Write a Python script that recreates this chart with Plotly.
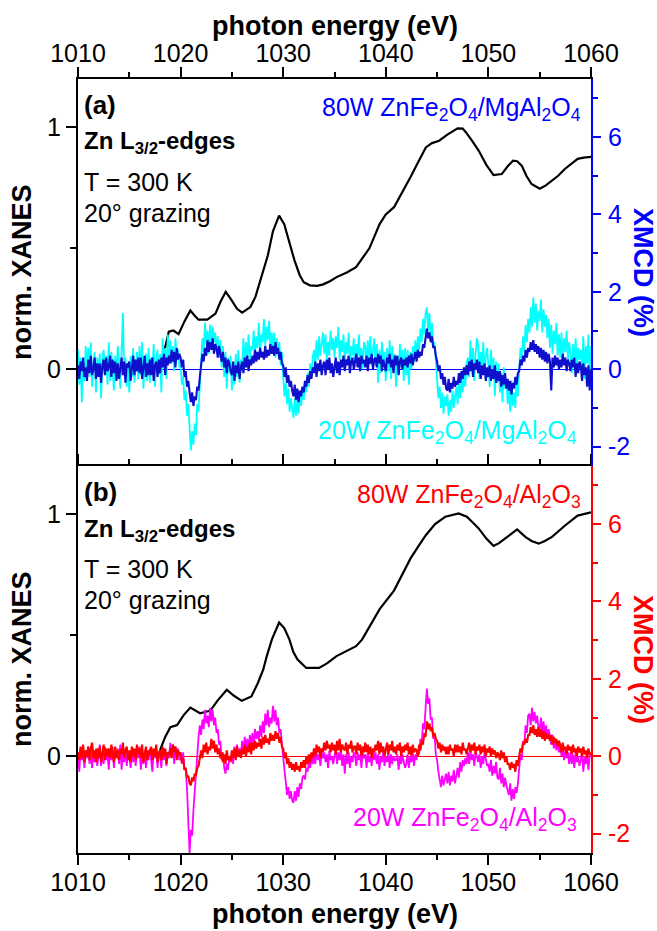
import numpy as np
import plotly.graph_objects as go

# ---------------- data ----------------
# XANES, panel (a) ZnFe2O4/MgAl2O4  (energy eV, normalised)
xa_E = [1018.0, 1018.5, 1018.85, 1019.3, 1019.8, 1020.4, 1020.95, 1021.4, 1021.75, 1022.6,
        1023.4, 1023.9, 1024.4, 1024.9, 1025.5, 1026.0, 1026.8, 1027.3, 1027.9, 1028.5,
        1029.0, 1029.6, 1030.1, 1030.6, 1031.1, 1031.6, 1032.0, 1032.6, 1033.3, 1033.9,
        1034.6, 1035.2, 1036.2, 1037.1, 1038.4, 1039.4, 1040.0, 1040.8, 1041.6, 1042.4,
        1043.2, 1043.9, 1044.5, 1045.2, 1046.0, 1047.0, 1047.5, 1047.8, 1048.4, 1049.05,
        1049.8, 1050.5, 1051.3, 1051.9, 1052.4, 1052.8, 1053.25, 1053.7, 1054.2, 1055.0,
        1055.6, 1056.2, 1056.8, 1057.45, 1058.1, 1058.7, 1059.3, 1060.0]
xa_V = [0.00, 0.09, 0.155, 0.16, 0.145, 0.20, 0.243, 0.22, 0.205, 0.205,
        0.23, 0.28, 0.32, 0.29, 0.25, 0.234, 0.257, 0.30, 0.381, 0.47,
        0.57, 0.635, 0.60, 0.52, 0.45, 0.39, 0.36, 0.347, 0.345, 0.351,
        0.365, 0.381, 0.40, 0.422, 0.50, 0.60, 0.64, 0.67, 0.73, 0.794,
        0.86, 0.917, 0.935, 0.945, 0.97, 0.996, 0.995, 0.98, 0.945, 0.904,
        0.845, 0.803, 0.807, 0.84, 0.862, 0.86, 0.842, 0.80, 0.766, 0.746,
        0.76, 0.78, 0.80, 0.828, 0.85, 0.87, 0.875, 0.878]

# XANES, panel (b) ZnFe2O4/Al2O3
xb_E = [1018.0, 1018.5, 1019.0, 1019.66, 1020.3, 1020.95, 1021.4, 1021.9, 1022.9, 1023.6,
        1024.5, 1025.2, 1025.96, 1026.9, 1027.5, 1028.05, 1028.4, 1028.9, 1029.6, 1030.1,
        1030.6, 1031.0, 1031.4, 1032.25, 1033.5, 1034.3, 1035.2, 1036.2, 1037.1, 1037.7,
        1038.5, 1039.4, 1040.8, 1041.6, 1042.4, 1043.2, 1043.9, 1044.8, 1045.8, 1047.1,
        1047.9, 1048.5, 1049.05, 1049.8, 1050.5, 1051.0, 1051.6, 1052.8, 1053.6, 1054.2,
        1054.9, 1055.5, 1056.2, 1057.5, 1058.7, 1059.8, 1060.0]
xb_V = [0.025, 0.08, 0.12, 0.129, 0.17, 0.201, 0.19, 0.178, 0.189, 0.23,
        0.275, 0.25, 0.229, 0.247, 0.30, 0.358, 0.414, 0.483, 0.553, 0.53,
        0.483, 0.43, 0.40, 0.365, 0.365, 0.385, 0.414, 0.435, 0.455, 0.483,
        0.54, 0.608, 0.685, 0.75, 0.817, 0.87, 0.914, 0.96, 0.99, 1.004,
        0.99, 0.965, 0.942, 0.90, 0.87, 0.88, 0.90, 0.9375, 0.907, 0.89,
        0.879, 0.89, 0.907, 0.955, 0.995, 1.007, 1.008]

# XMCD (%), sampled every 0.125 eV from 1010 to 1060 (8 values per eV, one row per eV)
mcd_a80 = [
    .10, -.25, .20, -.05, .30, -.20, .05, -.30,      # 1010
    .25, -.10, .35, -.15, .00, .30, -.25, .15,       # 1011
    -.20, .15, -.35, .10, .25, -.15, .30, -.05,      # 1012
    .05, .35, -.20, .25, -.10, .20, -.30, .15,       # 1013
    -.25, .10, .30, -.15, .20, -.35, .15, .05,       # 1014
    .20, -.30, .10, .35, -.15, .25, -.05, .30,       # 1015
    -.10, .30, -.25, .10, .35, -.20, .15, -.15,      # 1016
    .25, -.15, .30, -.30, .10, .20, -.20, .25,       # 1017
    -.10, .30, .05, .40, -.15, .30, .10, .35,        # 1018
    .15, .50, .20, .45, .05, .55, .25, .40,          # 1019
    .30, .05, .25, -.20, -.05, -.45, -.30, -.60,     # 1020
    -.85, -.60, -.95, -.70, -.80, -.45, -.55, -.20,  # 1021
    .05, .40, .20, .55, .35, .75, .45, .70,          # 1022
    .50, .80, .40, .65, .55, .30, .60, .35,          # 1023
    .20, .45, .05, .30, -.10, .25, .15, -.05,        # 1024
    -.15, .20, -.30, .10, -.10, .20, -.25, .05,      # 1025
    .20, -.10, .30, .05, .35, -.05, .25, .10,        # 1026
    .35, .15, .50, .20, .45, .25, .55, .30,          # 1027
    .45, .25, .60, .30, .50, .35, .65, .40,          # 1028
    .60, .35, .70, .40, .55, .25, .45, .15,          # 1029
    .10, -.20, .05, -.35, -.15, -.45, -.30, -.55,    # 1030
    -.70, -.40, -.80, -.50, -.85, -.55, -.70, -.45,  # 1031
    -.60, -.30, -.45, -.15, -.35, -.05, -.25, .05,   # 1032
    -.10, .20, -.20, .15, -.05, .25, -.15, .10,      # 1033
    .20, -.15, .25, .00, .30, -.10, .15, -.20,       # 1034
    .05, .30, -.10, .20, -.15, .25, .05, .35,        # 1035
    -.05, .25, .10, .35, -.10, .20, .30, .00,        # 1036
    .20, .40, .05, .30, -.05, .35, .15, .25,         # 1037
    .05, .35, -.05, .30, .15, .40, .00, .25,         # 1038
    .30, .05, .40, .15, .35, -.05, .25, .10,         # 1039
    -.05, .30, .15, .40, .05, .25, -.10, .35,        # 1040
    .10, .35, -.15, .20, .30, .00, .25, .10,         # 1041
    .30, .05, .35, .15, .40, .10, .25, .45,          # 1042
    .20, .50, .30, .45, .35, .65, .55, .80,          # 1043
    1.05, .80, .95, .70, .85, .55, .60, .35,         # 1044
    .20, -.05, .10, -.25, -.10, -.40, -.20, -.50,    # 1045
    -.55, -.25, -.60, -.35, -.50, -.20, -.45, -.30,  # 1046
    -.40, -.10, -.35, -.05, -.25, .05, -.15, .10,    # 1047
    -.15, .20, -.05, .25, -.20, .15, .00, .25,       # 1048
    -.10, .20, -.25, .10, -.15, .15, -.30, .05,      # 1049
    -.20, .10, -.30, .00, -.25, .10, -.35, -.05,     # 1050
    -.30, -.05, -.45, -.15, -.40, -.10, -.50, -.25,  # 1051
    -.55, -.30, -.65, -.35, -.50, -.20, -.40, -.10,  # 1052
    -.05, .25, .10, .35, .20, .50, .30, .55,         # 1053
    .45, .70, .50, .75, .45, .65, .40, .60,          # 1054
    .30, .55, .25, .50, .20, .45, .15, .40,          # 1055
    .20, -.55, .30, .05, .35, .10, .30, .00,         # 1056
    .25, .05, .40, .10, .30, -.05, .25, .15,         # 1057
    -.05, .25, .05, .30, -.20, .15, -.10, .20,       # 1058
    .10, -.30, .15, -.15, .05, -.45, .10, -.55,      # 1059
    .00]                                             # 1060

mcd_a20 = [
    .50, -.40, .30, -.85, .20, -.30, .60, -.10,      # 1010
    .55, -.20, .70, -.45, .10, .45, -.60, .30,       # 1011
    -.20, .40, -.75, .25, .50, -.15, .35, -.40,      # 1012
    .70, -.30, .45, .00, -.55, .35, -.20, .60,       # 1013
    .20, -.50, .40, 1.45, -.10, .30, -.45, .15,      # 1014
    -.60, .35, -.20, .55, -.35, .10, .45, -.25,      # 1015
    .60, -.15, .70, -.50, .20, .40, -.30, .55,       # 1016
    -.35, .30, -.10, .65, -.45, .25, .50, -.15,      # 1017
    .40, -.60, .80, .10, .55, -.25, .90, .20,        # 1018
    .75, .15, .60, -.05, .80, .25, .50, .05,         # 1019
    .10, -.40, -.20, -.80, -.55, -1.20, -.90, -1.50, # 1020
    -2.10, -1.60, -1.95, -1.40, -1.70, -.90, -1.10, -.40,  # 1021
    .10, .80, .45, 1.20, .65, 1.00, .40, 1.15,       # 1022
    .55, 1.10, .70, .95, .45, .85, .30, .75,         # 1023
    .05, .60, -.20, .45, -.50, .30, -.10, .35,       # 1024
    -.55, .20, -.40, .40, -.20, .50, -.35, .25,      # 1025
    .15, .80, .05, .70, .30, .90, .20, .60,          # 1026
    .50, 1.00, .35, .85, .55, 1.20, .45, .90,        # 1027
    .70, 1.30, .60, 1.10, .75, 1.25, .55, .95,       # 1028
    .50, .95, .30, .80, .40, .70, .10, .45,          # 1029
    -.20, -.70, -.35, -.90, -.50, -1.10, -.75, -1.05,  # 1030
    -1.25, -.75, -1.20, -.80, -1.15, -.60, -.95, -.55,  # 1031
    -.80, -.30, -.60, -.10, -.45, .15, -.20, .30,    # 1032
    .50, .10, .75, .25, .85, .35, .60, .95,          # 1033
    .40, .90, .20, .70, .35, 1.00, .50, .80,         # 1034
    .30, .85, .55, 1.10, .25, .75, .45, .90,         # 1035
    .20, .70, .40, .95, .15, .60, .35, .80,          # 1036
    .05, .65, .30, .90, .20, .55, .00, .70,          # 1037
    .60, .15, .75, .30, .85, .10, .50, .80,          # 1038
    .10, .65, -.35, .50, -.10, .70, .20, .45,        # 1039
    -.30, .55, -.05, .75, -.25, .60, .10, .40,       # 1040
    -.45, .35, -.10, .65, .05, .50, -.30, .55,       # 1041
    -.15, .50, -.40, .45, .00, .60, .20, .75,        # 1042
    .25, .85, .50, 1.05, .70, 1.30, .90, 1.45,       # 1043
    1.60, 1.00, 1.45, .80, 1.20, .55, .70, .10,      # 1044
    -.20, -.75, -.45, -1.00, -.60, -1.15, -.70, -.95,  # 1045
    -.65, -1.20, -.80, -1.10, -.55, -1.00, -.70, -.45,  # 1046
    -.90, -.35, -.75, -.20, -.60, -.10, -.45, .15,   # 1047
    .30, -.20, .75, .10, .55, -.30, .40, .80,        # 1048
    .65, -.25, .45, .05, .70, -.15, .35, .55,        # 1049
    .10, -.45, .50, -.20, .30, -.70, .20, -.35,      # 1050
    .15, -.60, -.10, -.85, .05, -.50, -.25, -.90,    # 1051
    -.45, -1.10, -.30, -.95, -.60, -1.00, -.20, -.70,  # 1052
    .00, .55, .30, .85, .45, 1.15, .70, 1.30,        # 1053
    .95, 1.60, 1.10, 1.85, 1.20, 1.70, 1.00, 1.50,   # 1054
    1.25, 1.80, .95, 1.55, 1.10, 1.40, .80, 1.30,    # 1055
    .55, 1.15, .40, 1.00, .65, 1.20, .35, .90,       # 1056
    .30, .95, .20, .80, .45, 1.00, .25, .70,         # 1057
    .40, -.10, .65, .20, .80, .05, .55, .25,         # 1058
    .50, .00, .85, -.25, .60, .15, .90, -.30,        # 1059
    .60]                                             # 1060

mcd_b80 = [
    .10, -.10, .25, -.05, .30, -.15, .15, .00,       # 1010
    .25, -.10, .20, .35, -.05, .15, -.15, .20,       # 1011
    -.05, .25, -.15, .10, .30, -.10, .20, .00,       # 1012
    .20, -.05, .30, .05, -.15, .25, -.05, .15,       # 1013
    -.10, .20, .05, .35, -.05, .15, .25, -.10,       # 1014
    .15, -.15, .25, .00, .20, -.10, .30, .05,        # 1015
    .20, -.05, .30, -.15, .10, .25, -.10, .15,       # 1016
    .05, .25, -.10, .20, .00, .30, -.15, .10,        # 1017
    .15, -.10, .25, .00, .20, -.20, .10, .05,        # 1018
    .20, -.05, .30, .10, .25, -.10, .15, .05,        # 1019
    .10, -.15, -.05, -.35, -.30, -.55, -.50, -.70,   # 1020
    -.75, -.55, -.65, -.45, -.50, -.30, -.25, -.05,  # 1021
    .15, -.05, .30, .10, .35, .05, .25, .15,         # 1022
    .45, .20, .40, .10, .30, .05, .20, -.05,         # 1023
    .10, -.15, .05, -.20, .15, -.10, .00, -.15,      # 1024
    .15, -.05, .20, -.10, .25, .00, .15, -.05,       # 1025
    .20, .05, .30, .00, .25, .10, .35, .05,          # 1026
    .35, .15, .40, .20, .35, .25, .45, .20,          # 1027
    .50, .30, .55, .35, .45, .30, .60, .40,          # 1028
    .55, .40, .65, .45, .60, .35, .50, .25,          # 1029
    .20, -.05, .10, -.20, -.05, -.30, -.15, -.35,    # 1030
    -.20, -.40, -.15, -.35, -.25, -.40, -.15, -.30,  # 1031
    -.10, -.30, .00, -.20, .05, -.15, .10, -.05,     # 1032
    .20, .00, .30, .10, .25, -.05, .20, .10,         # 1033
    .35, .15, .40, .20, .30, .10, .35, .15,          # 1034
    .30, .05, .40, .15, .45, .10, .30, .20,          # 1035
    .15, .35, .05, .30, .20, .40, .10, .25,          # 1036
    .25, .05, .35, .15, .30, .00, .25, .10,          # 1037
    .35, .10, .30, .05, .25, -.05, .20, .10,         # 1038
    .30, .15, .40, .05, .35, .10, .25, .00,          # 1039
    .20, .35, .05, .30, .15, .40, .10, .25,          # 1040
    .05, .30, .15, .35, .00, .25, .10, .30,          # 1041
    .15, .35, .05, .25, .00, .30, .10, .20,          # 1042
    .15, .00, .30, .15, .40, .30, .60, .50,          # 1043
    .90, .70, .85, .65, .75, .50, .60, .45,          # 1044
    .40, .20, .35, .10, .30, .15, .25, .05,          # 1045
    .25, .05, .30, .15, .20, .00, .30, .10,          # 1046
    .30, .10, .25, .05, .35, .15, .20, .05,          # 1047
    .20, .35, .10, .30, .15, .35, .05, .25,          # 1048
    .15, .30, .05, .25, .10, .30, .00, .20,          # 1049
    .10, .25, .00, .20, .05, .15, -.05, .10,         # 1050
    .05, -.10, .15, -.05, .10, -.15, .00, -.20,      # 1051
    -.20, -.35, -.15, -.30, -.20, -.40, -.10, -.25,  # 1052
    .00, .20, .10, .35, .30, .45, .35, .55,          # 1053
    .55, .75, .60, .80, .55, .70, .50, .75,          # 1054
    .50, .70, .45, .65, .40, .60, .45, .55,          # 1055
    .40, .55, .30, .50, .35, .45, .25, .40,          # 1056
    .30, .10, .35, .15, .25, .05, .30, .15,          # 1057
    .25, .05, .30, .10, .20, .00, .25, .10,          # 1058
    .20, .00, .25, .05, .15, -.05, .20, .05,         # 1059
    .10]                                             # 1060

mcd_b20 = [
    .10, -.40, .20, -.10, .05, -.30, .15, -.05,      # 1010
    .25, -.20, .15, -.30, .10, -.15, .20, -.25,      # 1011
    .00, .30, -.25, .10, -.20, .25, -.10, .05,       # 1012
    -.35, .20, -.10, .25, -.30, .10, .00, .20,       # 1013
    -.20, .30, -.35, .10, -.15, .20, -.25, .05,      # 1014
    .05, -.30, .20, -.15, .10, -.25, .15, -.05,      # 1015
    .25, -.35, .10, -.20, .15, -.30, .05, -.10,      # 1016
    .20, -.10, -.40, .15, -.05, .20, -.30, .10,      # 1017
    .00, -.30, .20, -.10, .15, -.25, .10, -.05,      # 1018
    .35, .00, .30, -.20, .25, .05, .20, -.10,        # 1019
    .05, -.20, .10, -.35, -.30, -.85, -1.60, -2.50,  # 1020
    -1.90, -2.05, -1.40, -.85, -.30, .15, .50, .80,  # 1021
    .55, .95, .70, 1.20, .85, 1.05, .75, 1.25,       # 1022
    .90, 1.20, .80, 1.00, .60, .70, .30, .40,        # 1023
    -.10, .10, -.30, -.45, -.20, -.35, .00, -.10,    # 1024
    .10, -.20, .25, -.05, .30, .00, .20, .05,        # 1025
    .40, .10, .50, .20, .45, .15, .55, .30,          # 1026
    .60, .30, .70, .45, .65, .40, .80, .50,          # 1027
    .90, .60, 1.10, .80, 1.20, .75, 1.00, .85,       # 1028
    1.30, .90, 1.20, .80, 1.00, .60, .70, .30,       # 1029
    .00, -.40, -.60, -1.00, -.80, -1.10, -.90, -1.15,  # 1030
    -1.20, -.90, -1.15, -.80, -1.05, -.70, -.85, -.55,  # 1031
    -.50, -.60, -.30, -.40, -.15, -.30, -.05, -.20,  # 1032
    .00, -.20, .10, -.10, .05, -.25, .10, -.05,      # 1033
    .10, -.15, .05, -.30, .15, -.10, .00, -.20,      # 1034
    .00, .15, -.20, .10, -.10, .15, -.25, .05,       # 1035
    -.45, .05, -.20, .10, -.30, .00, -.15, .10,      # 1036
    .00, -.25, .10, -.10, .05, -.30, .10, -.05,      # 1037
    .05, -.30, .10, -.15, .00, -.25, .15, -.10,      # 1038
    .10, -.20, .05, -.35, .00, -.15, .10, -.25,      # 1039
    .00, -.15, .10, -.30, .05, -.20, .00, -.10,      # 1040
    -.10, .05, -.35, .00, -.20, .05, -.15, -.30,     # 1041
    -.20, .05, -.30, .00, -.15, .10, -.25, .05,      # 1042
    -.10, .15, .05, .45, .30, .85, .70, 1.30,        # 1043
    1.75, 1.35, 1.50, .95, 1.00, .45, .55, .05,      # 1044
    -.10, -.40, -.60, -.80, -.50, -.75, -.60, -.45,  # 1045
    -.70, -.40, -.75, -.50, -.65, -.35, -.70, -.45,  # 1046
    -.30, -.55, -.15, -.40, -.10, -.25, -.05, -.20,  # 1047
    .10, -.20, .15, -.10, .05, -.25, .10, .00,       # 1048
    -.15, .05, -.30, .00, -.20, .10, -.10, -.25,     # 1049
    -.20, -.40, -.10, -.50, -.25, -.45, -.15, -.55,  # 1050
    -.60, -.30, -.70, -.45, -.80, -.55, -.75, -.90,  # 1051
    -1.00, -.70, -1.15, -.85, -1.10, -.80, -.95, -.70,  # 1052
    -.40, .05, -.10, .40, .30, .80, .60, 1.05,       # 1053
    1.10, .80, 1.25, .90, 1.15, .85, 1.05, .75,      # 1054
    .70, 1.00, .60, .90, .55, .80, .50, .70,         # 1055
    .50, .30, .55, .20, .40, .15, .35, .10,          # 1056
    .30, .00, .20, -.10, .15, -.05, .10, -.20,       # 1057
    .10, -.20, .05, -.30, .10, -.15, .00, -.25,      # 1058
    -.10, .10, -.40, .00, -.20, .05, -.35, .00,      # 1059
    .05]                                             # 1060

E_START, E_STEP = 1010.0, 0.125


def egrid(vals):
    return E_START + E_STEP * np.arange(len(vals))


# ---------------- figure ----------------
W, H = 657, 931
ML, MR, MT, MB = 78, 66, 79, 78
PW, PH = W - ML - MR, H - MT - MB


def px(x):
    return (x - ML) / PW


def py(y):
    return (H - MB - y) / PH


FONT = "Liberation Sans, Arial, sans-serif"
BLUE_AX = "#0000FF"
BLUE_TR = "#1010CC"
CYAN = "#00FFFF"
RED = "#FF0000"
MAG = "#FF00FF"

fig = go.Figure()

# panel (a)
fig.add_trace(go.Scatter(x=xa_E, y=xa_V, xaxis="x2", yaxis="y", mode="lines",
                         line=dict(color="black", width=2.2), showlegend=False))
fig.add_trace(go.Scatter(x=egrid(mcd_a20), y=mcd_a20, xaxis="x2", yaxis="y2", mode="lines",
                         line=dict(color=CYAN, width=1.8), showlegend=False))
fig.add_trace(go.Scatter(x=egrid(mcd_a80), y=mcd_a80, xaxis="x2", yaxis="y2", mode="lines",
                         line=dict(color=BLUE_TR, width=2.1), showlegend=False))
# panel (b)
fig.add_trace(go.Scatter(x=xb_E, y=xb_V, xaxis="x", yaxis="y3", mode="lines",
                         line=dict(color="black", width=2.2), showlegend=False))
fig.add_trace(go.Scatter(x=egrid(mcd_b20), y=mcd_b20, xaxis="x", yaxis="y4", mode="lines",
                         line=dict(color=MAG, width=1.8), showlegend=False))
fig.add_trace(go.Scatter(x=egrid(mcd_b80), y=mcd_b80, xaxis="x", yaxis="y4", mode="lines",
                         line=dict(color=RED, width=2.1), showlegend=False))

tickfont = dict(family=FONT, size=25, color="black")
AXW = 2

xcommon = dict(range=[1010, 1060], tick0=1010, dtick=10, ticks="outside", ticklen=10,
               tickwidth=AXW, tickcolor="black", showline=True, linecolor="black",
               linewidth=AXW, showgrid=False, zeroline=False, tickfont=tickfont,
               minor=dict(dtick=5, tick0=1010, ticks="outside", ticklen=5,
                          tickwidth=AXW, tickcolor="black"))

yleft = dict(range=[-0.4, 1.2], tickvals=[0, 1], ticktext=["0", "1"], ticks="outside",
             ticklen=10, tickwidth=AXW, tickcolor="black", showline=True,
             linecolor="black", linewidth=AXW, showgrid=False, zeroline=False,
             tickfont=tickfont,
             minor=dict(tickmode="array", tickvals=[0.5], ticks="outside", ticklen=6,
                        tickwidth=AXW, tickcolor="black"))


def yright(col):
    return dict(range=[-2.5, 7.5], tickvals=[-2, 0, 2, 4, 6],
                ticktext=["-2", "0", "2", "4", "6"], ticks="outside", ticklen=8,
                tickwidth=AXW, tickcolor=col, showline=True, linecolor=col,
                linewidth=AXW, showgrid=False, zeroline=True, zerolinecolor=col,
                zerolinewidth=1, side="right", ticklabelstandoff=2,
                tickfont=dict(family=FONT, size=25, color=col),
                minor=dict(tickmode="array", tickvals=[-1, 1, 3, 5, 7], ticks="outside",
                           ticklen=5, tickwidth=AXW, tickcolor=col))


fig.update_layout(
    width=W, height=H,
    margin=dict(l=ML, r=MR, t=MT, b=MB, pad=0),
    paper_bgcolor="white", plot_bgcolor="white",
    showlegend=False,
    xaxis=dict(**xcommon, anchor="y3", side="bottom", mirror="ticks", ticklabelstandoff=-4),
    xaxis2=dict(**xcommon, anchor="y", side="top", matches="x", mirror=False,
                ticklabelstandoff=-5),
    yaxis=dict(**yleft, domain=[0.5, 1.0], anchor="x2"),
    yaxis2=dict(**yright(BLUE_AX), domain=[0.5, 1.0], overlaying="y", anchor="x2"),
    yaxis3=dict(**yleft, domain=[0.0, 0.5], anchor="x"),
    yaxis4=dict(**yright(RED), domain=[0.0, 0.5], overlaying="y3", anchor="x"),
)

ann = []


def add_text(text, x, y, size, color="black", xanchor="left", yanchor="middle", angle=0):
    ann.append(dict(text=text, x=px(x), y=py(y), xref="paper", yref="paper",
                    xanchor=xanchor, yanchor=yanchor, showarrow=False, textangle=angle,
                    font=dict(family=FONT, size=size, color=color)))


TS = 25
for off, lab, top_txt, top_col, bot_txt, bot_col in [
        (0, "(a)", "80W ZnFe<sub>2</sub>O<sub>4</sub>/MgAl<sub>2</sub>O<sub>4</sub>", BLUE_AX,
         "20W ZnFe<sub>2</sub>O<sub>4</sub>/MgAl<sub>2</sub>O<sub>4</sub>", CYAN),
        (387, "(b)", "80W ZnFe<sub>2</sub>O<sub>4</sub>/Al<sub>2</sub>O<sub>3</sub>", RED,
         "20W ZnFe<sub>2</sub>O<sub>4</sub>/Al<sub>2</sub>O<sub>3</sub>", MAG)]:
    add_text("<b>" + lab + "</b>", 82, 105 + off, 26)
    add_text("<b>Zn L<sub>3/2</sub>-edges</b>", 82, 143 + off, 24)
    add_text("T = 300 K", 82, 182 + off, TS)
    add_text("20° grazing", 82, 213 + off, TS)
    add_text(top_txt, 583, 109 + off, TS, top_col, xanchor="right")
    add_text(bot_txt, 579, 432 + off, TS, bot_col, xanchor="right")
    add_text("<b>norm. XANES</b>", 22, 272 + off, 27, "black", xanchor="center", angle=-90)
    add_text("<b>XMCD (%)</b>", 643, 272 + off, 27, top_col if off == 0 else RED,
             xanchor="center", angle=90)

add_text("<b>photon energy (eV)</b>", 334.5, 26, 27, xanchor="center")
add_text("<b>photon energy (eV)</b>", 334.5, 914, 27, xanchor="center")

fig.update_layout(annotations=ann)

fig.write_html("out.html")
